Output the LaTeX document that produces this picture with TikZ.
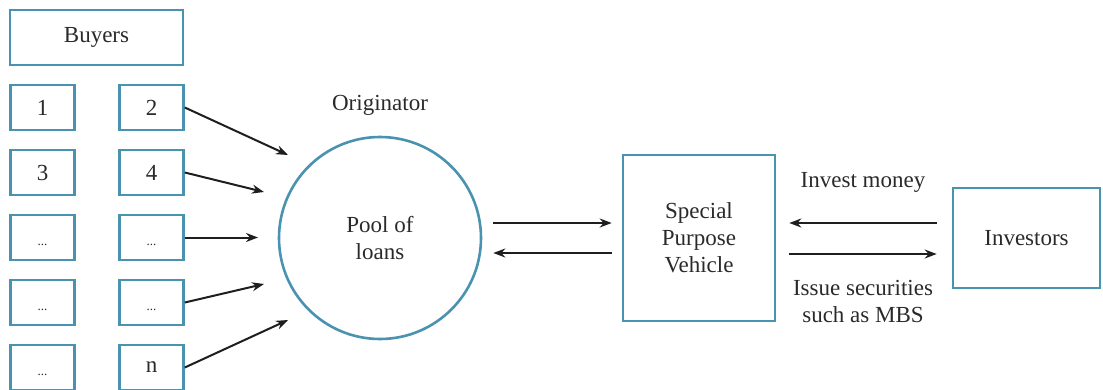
\documentclass[tikz,border=0pt]{standalone}
\usepackage{fontspec}
\setmainfont{Liberation Serif}
\usetikzlibrary{arrows.meta,positioning,calc}
\definecolor{ink}{HTML}{1E1E1E}
\definecolor{txt}{HTML}{2A2A2A}
\definecolor{frame}{HTML}{4A93B0}
\newcommand{\etcdots}{\vphantom{1}{\fontsize{13}{15}\selectfont...}}

\begin{document}
\begin{tikzpicture}[x=1pt, y=-1pt,
  box/.style={draw=frame, line width=2.6pt, fill=white, align=center, text=txt, font=\fontsize{23}{27}\selectfont, inner sep=2pt},
  num/.style={box, minimum width=64pt, minimum height=45pt},
  lab/.style={font=\fontsize{23}{27}\selectfont, text=txt, align=center},
  arr/.style={-{Stealth[length=12pt, width=9pt]}, draw=ink, line width=2pt},
]
\useasboundingbox (0,0) rectangle (1103,389);
\node[box, minimum width=173pt, minimum height=55pt] (buyers) at (96.5,37.5) {Buyers};
\node[num] (b1) at (42.5,107.5) {1};
\node[num] (b2) at (151.5,107.5) {2};
\node[num] (b3) at (42.5,172.5) {3};
\node[num] (b4) at (151.5,172.5) {4};
\node[num] (b5) at (42.5,237.5) {\etcdots};
\node[num] (b6) at (151.5,237.5) {\etcdots};
\node[num] (b7) at (42.5,302.5) {\etcdots};
\node[num] (b8) at (151.5,302.5) {\etcdots};
\node[num] (b9) at (42.5,367.5) {\etcdots};
\node[num] (bn) at (151.5,367.5) {n};
\node[box, circle, minimum size=202pt] (pool) at (380,238) {Pool of\\loans};
\node[lab] (orig) at (380,105) {Originator};
\node[box, minimum width=152pt, minimum height=166pt] (spv) at (699,238) {Special\\Purpose\\Vehicle};
\node[box, minimum width=147pt, minimum height=100pt] (inv) at (1026.5,238) {Investors};
\coordinate (t2) at (288,155);
\coordinate (t4) at (264,192);
\coordinate (t6) at (258,237.5);
\coordinate (t8) at (264,284);
\coordinate (tn) at (288,320);
\draw[arr] (b2.east) -- (t2);
\draw[arr] (b4.east) -- (t4);
\draw[arr] (b6.east) -- (t6);
\draw[arr] (b8.east) -- (t8);
\draw[arr] (bn.east) -- (tn);
\draw[arr] ($(pool.east)+(11,-15)$) -- ($(spv.west)+(-10,-15)$);
\draw[arr] ($(spv.west)+(-10,15)$) -- ($(pool.east)+(11,15)$);
\draw[arr] ($(inv.west)+(-15,-15)$) -- node[lab, above=26pt] {Invest money} ($(spv.east)+(13,-15)$);
\draw[arr] ($(spv.east)+(13,16)$) -- node[lab, below=22pt] {Issue securities\\such as MBS} ($(inv.west)+(-15,16)$);
\end{tikzpicture}
\end{document}
